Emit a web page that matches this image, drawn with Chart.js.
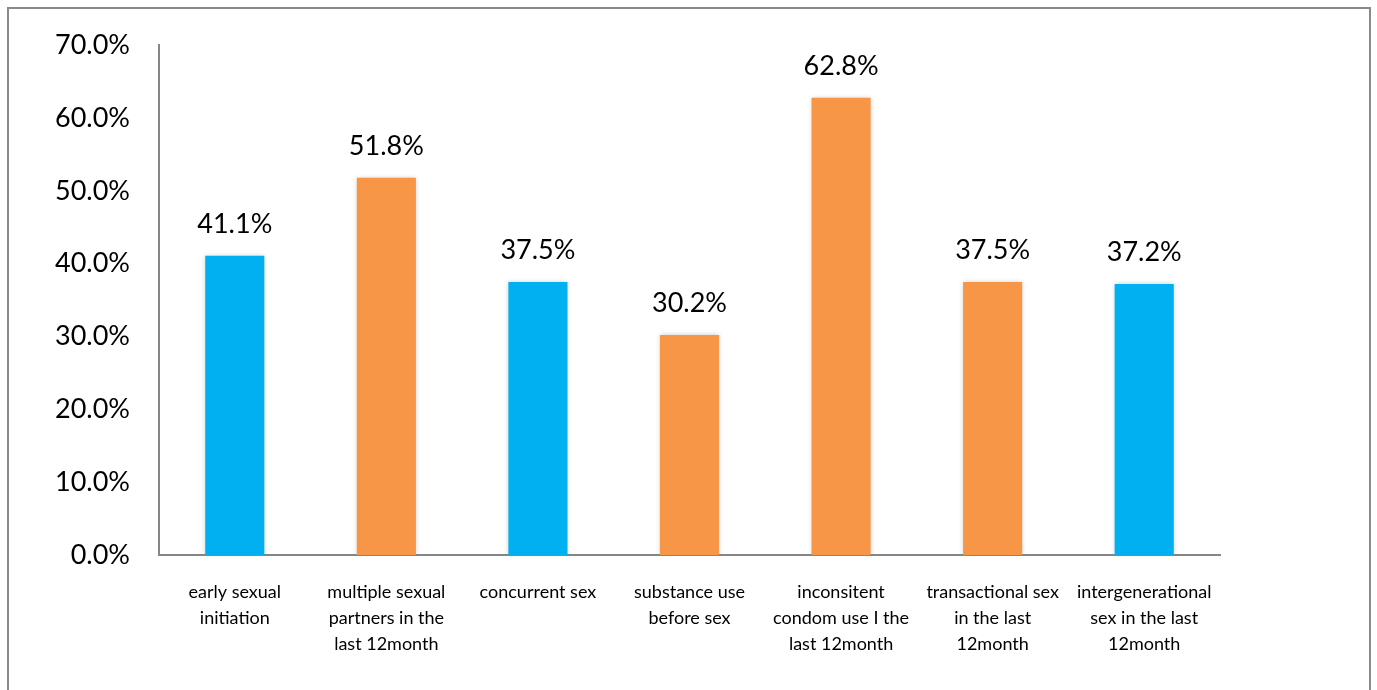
<!DOCTYPE html>
<html>
<head>
<meta charset="utf-8">
<script src="https://cdn.jsdelivr.net/npm/chart.js@4/dist/chart.umd.min.js"></script>
<style>
    body { margin: 0; background: #fff; }
    #frame {
        position: absolute; left: 7px; top: 7px;
        width: 1360px; height: 720px;
        border: 2px solid #8a8a8a;
    }
    #wrap { position: absolute; left: 0; top: 0; width: 1377px; height: 690px; }
</style>
</head>
<body>
<div id="frame"></div>
<div id="wrap"><canvas id="graficoRisco"></canvas></div>
<script>
// Categorias (quebradas em linhas como no eixo)
const categorias = [
    ['early sexual', 'initiation'],
    ['multiple sexual', 'partners in the', 'last 12month'],
    ['concurrent sex'],
    ['substance use', 'before sex'],
    ['inconsitent', 'condom use I the', 'last 12month'],
    ['transactional sex', 'in the last', '12month'],
    ['intergenerational', 'sex in the last', '12month']
];
const percentuais = [41.1, 51.8, 37.5, 30.2, 62.8, 37.5, 37.2];
const coresBarras = ['#00B0F0', '#F79646', '#00B0F0', '#F79646', '#F79646', '#F79646', '#00B0F0'];
const ticksY = [0, 10, 20, 30, 40, 50, 60, 70];

const fonte = 'Lato, "Open Sans", sans-serif';

// sombra leve em volta das barras
const sombraBarras = {
    id: 'sombraBarras',
    beforeDatasetsDraw(chart) {
        const ctx = chart.ctx;
        ctx.save();
        ctx.shadowColor = 'rgba(0,0,0,0.22)';
        ctx.shadowBlur = 5;
    },
    afterDatasetsDraw(chart) {
        chart.ctx.restore();
    }
};

// valor acima de cada barra
const rotulosValor = {
    id: 'rotulosValor',
    afterDatasetsDraw(chart) {
        const ctx = chart.ctx;
        const meta = chart.getDatasetMeta(0);
        ctx.save();
        ctx.font = '27px ' + fonte;
        ctx.fillStyle = '#000';
        ctx.textAlign = 'center';
        ctx.textBaseline = 'alphabetic';
        meta.data.forEach((bar, i) => {
            ctx.fillText(percentuais[i].toFixed(1) + '%', bar.x, bar.y - 23);
        });
        ctx.restore();
    }
};

new Chart(document.getElementById('graficoRisco'), {
    type: 'bar',
    data: {
        labels: categorias,
        datasets: [{
            data: percentuais,
            backgroundColor: coresBarras,
            borderWidth: 0,
            categoryPercentage: 1,
            barPercentage: 0.39
        }]
    },
    options: {
        responsive: true,
        maintainAspectRatio: false,
        animation: false,
        layout: { padding: { top: 36, right: 157, left: 0, bottom: 0 } },
        plugins: {
            legend: { display: false },
            tooltip: { enabled: false }
        },
        scales: {
            x: {
                grid: { display: false, drawTicks: false },
                border: { display: true, color: '#868686', width: 2 },
                ticks: {
                    color: '#000',
                    font: { family: fonte, size: 18, lineHeight: 1.45 },
                    padding: 24,
                    maxRotation: 0,
                    autoSkip: false
                },
                afterFit(scale) { scale.height = 135; }
            },
            y: {
                min: 0,
                max: 70,
                grid: { display: false, drawTicks: false },
                border: { display: true, color: '#868686', width: 2 },
                afterBuildTicks(scale) {
                    scale.ticks = ticksY.map(v => ({ value: v }));
                },
                ticks: {
                    color: '#000',
                    font: { family: fonte, size: 27 },
                    padding: 29,
                    callback: v => v.toFixed(1) + '%'
                },
                afterFit(scale) { scale.width = 159; }
            }
        }
    },
    plugins: [sombraBarras, rotulosValor]
});
</script>
</body>
</html>
